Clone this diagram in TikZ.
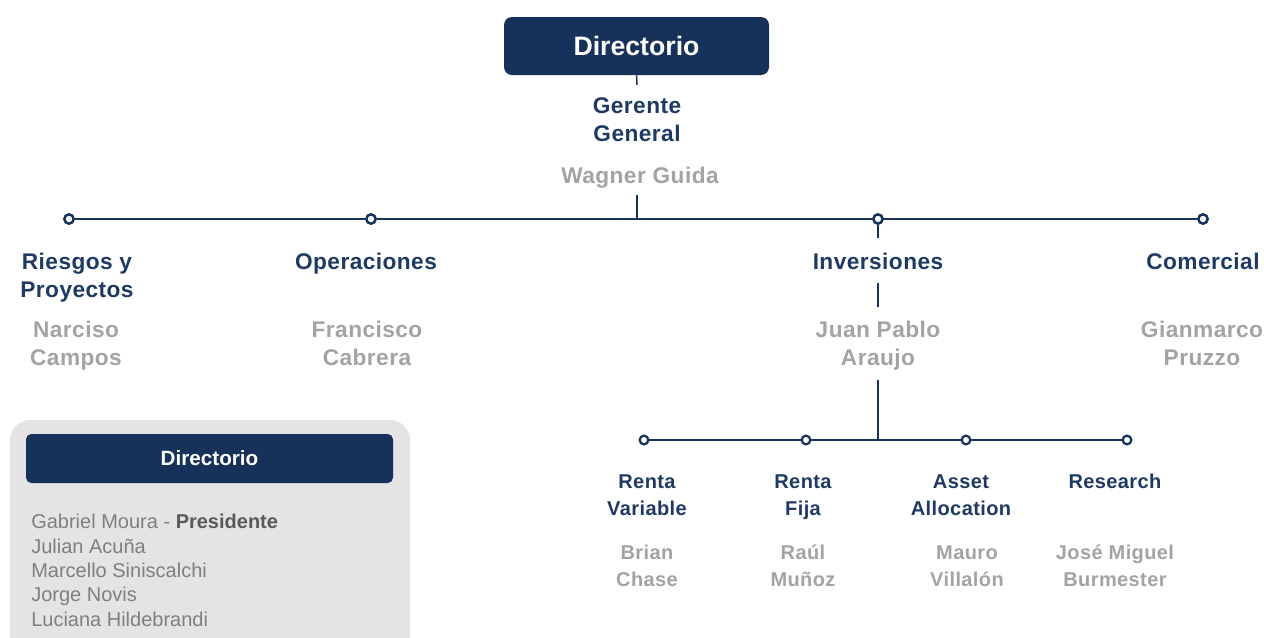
\documentclass[tikz,border=0pt]{standalone}
\usepackage{fontspec}
\setmainfont{Liberation Sans}
\newfontfamily\spc[LetterSpace=2]{Liberation Sans}
\definecolor{navy}{HTML}{17325A}
\definecolor{labnavy}{HTML}{1E3A63}
\definecolor{nmgray}{HTML}{A3A3A3}
\definecolor{lsgray}{HTML}{7F7F7F}
\definecolor{boxgray}{HTML}{E4E4E4}
\tikzset{
  lab/.style={text=labnavy, align=center, inner sep=0pt, anchor=base, font=\spc\bfseries\fontsize{17}{21}\selectfont},
  nm/.style={text=nmgray, align=center, inner sep=0pt, anchor=base, font=\spc\bfseries\fontsize{17}{21}\selectfont},
  labs/.style={text=labnavy, align=center, inner sep=0pt, anchor=base, font=\spc\bfseries\fontsize{15}{20.25}\selectfont},
  nms/.style={text=nmgray, align=center, inner sep=0pt, anchor=base, font=\spc\bfseries\fontsize{15}{20.25}\selectfont},
  dotbig/.style={circle, draw=navy, fill=white, line width=1.9pt, minimum size=7pt, inner sep=0pt},
  dotsmall/.style={circle, draw=navy, fill=white, line width=1.7pt, minimum size=6.5pt, inner sep=0pt},
  mainline/.style={draw=navy, line width=2.1pt},
  subline/.style={draw=navy, line width=1.5pt},
  vline/.style={draw=navy, line width=1.1pt},
}
\begin{document}
\begin{tikzpicture}[x=0.75pt,y=-0.75pt]
\useasboundingbox (0,0) rectangle (1264,637);
\clip (0,0) rectangle (1264,637);

% top box
\node[fill=navy, rounded corners=6pt, minimum width=198.75pt, minimum height=43.5pt, inner sep=0pt,
      text=white, font=\bfseries\fontsize{20}{23}\selectfont] (dir) at (636.5,46) {Directorio};
\coordinate (gtop) at (637,85);
\draw[vline] (dir.south) -- (gtop);
\node[lab] (gg) at (637,141) {Gerente\\General};
\node[nm] (wg) at (640,183) {Wagner Guida};
\coordinate (wgb) at (637,195);
\coordinate (j1) at (637,219);
\draw[vline] (wgb) -- (j1);

% main horizontal line
\node[dotbig] (c1) at (69,219) {};
\node[dotbig] (c2) at (371,219) {};
\node[dotbig] (c3) at (878,219) {};
\node[dotbig] (c4) at (1203,219) {};
\draw[mainline] (c1) -- (c2) -- (j1) -- (c3) -- (c4);

% level 1 labels
\node[lab] (riesgos) at (77,297) {Riesgos y\\Proyectos};
\node[nm] (narciso) at (76,365) {Narciso\\Campos};
\node[lab] (oper) at (366,269) {Operaciones};
\node[nm] (franc) at (367,365) {Francisco\\Cabrera};
\node[lab] (inv) at (878,269) {Inversiones};
\node[nm] (juan) at (878,365) {Juan Pablo\\Araujo};
\node[lab] (com) at (1203,269) {Comercial};
\node[nm] (gian) at (1202,365) {Gianmarco\\Pruzzo};

\coordinate (t3) at (878,238);
\draw[vline] (c3) -- (t3);
\coordinate (i1) at (878,283);
\coordinate (i2) at (878,307);
\draw[vline] (i1) -- (i2);
\coordinate (jb) at (878,380);
\coordinate (j2) at (878,440);
\draw[vline] (jb) -- (j2);

% sub horizontal line
\node[dotsmall] (d1) at (644,440) {};
\node[dotsmall] (d2) at (806,440) {};
\node[dotsmall] (d3) at (966,440) {};
\node[dotsmall] (d4) at (1127,440) {};
\draw[subline] (d1) -- (d2) -- (j2) -- (d3) -- (d4);

\node[labs] (rv) at (647,515) {Renta\\Variable};
\node[nms] (brian) at (647,586) {Brian\\Chase};
\node[labs] (rf) at (803,515) {Renta\\Fija};
\node[nms] (raul) at (803,586) {Raúl\\Muñoz};
\node[labs] (aa) at (961,515) {Asset\\Allocation};
\node[nms] (mauro) at (967,586) {Mauro\\Villalón};
\node[labs] (res) at (1115,488) {Research};
\node[nms] (jose) at (1115,586) {José Miguel\\Burmester};

% lower-left box
\fill[boxgray, rounded corners=15pt] (10,420) rectangle (410,660);
\node[fill=navy, rounded corners=4pt, minimum width=275.25pt, minimum height=36.75pt, inner sep=0pt,
      text=white, font=\bfseries\fontsize{15.5}{18}\selectfont] (dir2) at (209.5,458.5) {Directorio};
\node[anchor=north west, align=left, inner sep=0pt, text=lsgray,
      font=\fontsize{15}{18.3}\selectfont] (list) at (31,514)
  {Gabriel Moura - \textcolor{black!65}{\bfseries Presidente}\\Julian Acuña\\Marcello Siniscalchi\\Jorge Novis\\Luciana Hildebrandi};
\end{tikzpicture}
\end{document}
